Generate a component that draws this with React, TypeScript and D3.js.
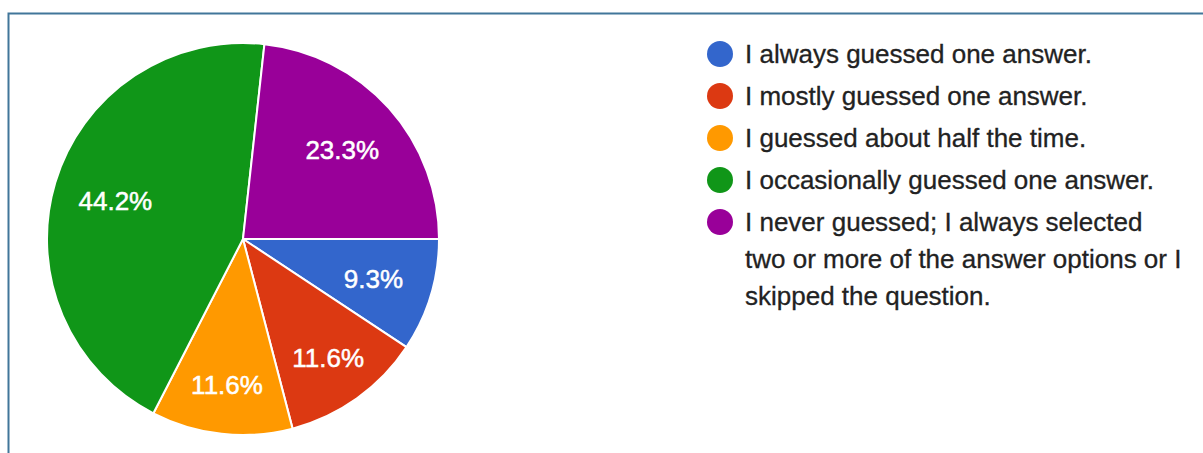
import { useEffect, useRef } from 'react';
import * as d3 from 'd3';

// answers to the survey question (43 responses)
const categories = [
  'I always guessed one answer.',
  'I mostly guessed one answer.',
  'I guessed about half the time.',
  'I occasionally guessed one answer.',
  'I never guessed; I always selected two or more of the answer options or I skipped the question.',
];
const counts = [4, 5, 5, 19, 10];
const colors = ['#3366cc', '#dc3912', '#ff9900', '#109618', '#990099'];

const W = 1203;
const H = 453;
const FONT = '"Liberation Sans", Arial, Helvetica, sans-serif';

export default function App() {
  const svgRef = useRef<SVGSVGElement>(null);

  useEffect(() => {
    if (!svgRef.current) return;
    const svg = d3.select(svgRef.current);
    svg.selectAll('*').remove();

    // frame
    svg.append('rect')
      .attr('x', 8.5)
      .attr('y', 13.5)
      .attr('width', W + 20)
      .attr('height', H + 20)
      .style('fill', '#fff')
      .style('stroke', '#41769a')
      .style('stroke-width', 2);

    const cx = 243;
    const cy = 239;
    const R = 196;
    const total = d3.sum(counts);

    const pie = d3.pie<number>()
      .sort(null)
      .startAngle(Math.PI / 2)
      .endAngle(Math.PI / 2 + Math.PI * 2);
    const arcs = pie(counts);
    const arc = d3.arc<d3.PieArcDatum<number>>().innerRadius(0).outerRadius(R);

    const g = svg.append('g').attr('transform', `translate(${cx},${cy})`);

    g.selectAll('path.slice')
      .data(arcs)
      .enter()
      .append('path')
      .attr('class', 'slice')
      .attr('d', arc)
      .style('fill', (_, i) => colors[i])
      .style('stroke', '#fff')
      .style('stroke-width', 2);

    const fmt = (v: number) => `${((v / total) * 100).toFixed(1)}%`;
    const fs = 26;
    const capH = fs * 0.72;
    const pad = 15;

    // distance from point to a ray leaving the centre at angle a
    const rayDist = (px: number, py: number, a: number) => {
      const ux = Math.sin(a);
      const uy = -Math.cos(a);
      if (px * ux + py * uy < 0) return Math.hypot(px, py);
      return Math.abs(px * uy - py * ux);
    };

    arcs.forEach(d => {
      const t = g.append('text')
        .text(fmt(d.value))
        .style('font-family', FONT)
        .style('font-size', `${fs}px`)
        .style('fill', '#fff')
        .style('stroke', '#fff')
        .style('stroke-width', 0.5)
        .attr('text-anchor', 'middle');
      const w = (t.node() as SVGTextElement).getComputedTextLength();
      const mid = (d.startAngle + d.endAngle) / 2;
      // push the label outward until its box clears both slice edges
      let r = R * 0.68;
      for (; r < R * 0.85; r += 1) {
        const x = Math.sin(mid) * r;
        const y = -Math.cos(mid) * r;
        const corners = [
          [x - w / 2, y - capH / 2], [x + w / 2, y - capH / 2],
          [x - w / 2, y + capH / 2], [x + w / 2, y + capH / 2],
        ];
        const m = d3.min(corners, c =>
          Math.min(rayDist(c[0], c[1], d.startAngle), rayDist(c[0], c[1], d.endAngle)))!;
        if (m >= pad) break;
      }
      t.attr('x', Math.sin(mid) * r)
        .attr('y', -Math.cos(mid) * r + capH / 2);
    });

    // legend
    const lx = 720;
    const ly = 54;
    const lineH = 37;
    const rowGap = 42;
    const maxW = 441;
    let y = ly;
    categories.forEach((label, i) => {
      svg.append('circle')
        .attr('cx', lx)
        .attr('cy', y)
        .attr('r', 13)
        .style('fill', colors[i]);
      const t = svg.append('text')
        .attr('x', lx + 25)
        .attr('y', y + capH / 2)
        .style('font-family', FONT)
        .style('font-size', `${fs}px`)
        .style('fill', '#222')
        .style('stroke', '#222')
        .style('stroke-width', 0.3);
      // wrap words into lines
      const words = label.split(' ');
      let line: string[] = [];
      let n = 0;
      let span = t.append('tspan').attr('x', lx + 25).attr('dy', 0);
      words.forEach(word => {
        line.push(word);
        span.text(line.join(' '));
        if ((span.node() as SVGTSpanElement).getComputedTextLength() > maxW && line.length > 1) {
          line.pop();
          span.text(line.join(' '));
          line = [word];
          n += 1;
          span = t.append('tspan').attr('x', lx + 25).attr('dy', lineH).text(word);
        }
      });
      y += rowGap + n * lineH;
    });
  }, []);

  return (
    <svg
      ref={svgRef}
      width={W}
      height={H}
      style={{ position: 'absolute', left: 0, top: 0, display: 'block' }}
    />
  );
}
